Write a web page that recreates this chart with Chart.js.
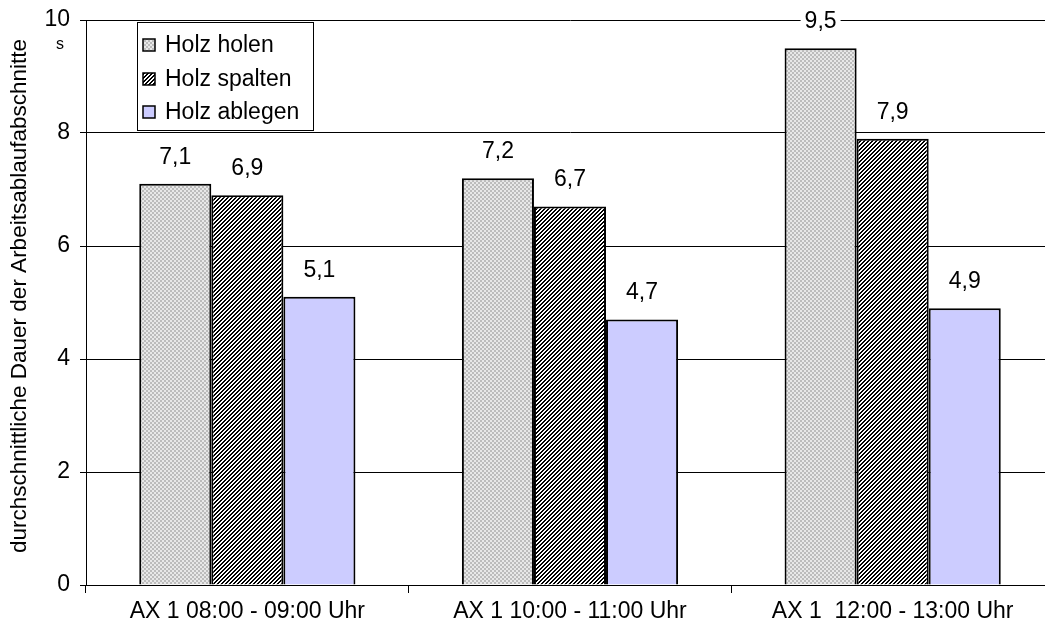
<!DOCTYPE html>
<html>
<head>
<meta charset="utf-8">
<script src="https://cdn.jsdelivr.net/npm/chart.js@4/dist/chart.umd.min.js"></script>
<style>
  html, body { margin: 0; padding: 0; overflow: hidden; background: #fff; }
  #wrap { width: 1054px; height: 628px; position: relative; }
</style>
</head>
<body>
<div id="wrap"><canvas id="myChart"></canvas></div>
<script>
var categories = ['AX 1 08:00 - 09:00 Uhr', 'AX 1 10:00 - 11:00 Uhr', 'AX 1  12:00 - 13:00 Uhr'];
var seriesNames = ['Holz holen', 'Holz spalten', 'Holz ablegen'];
var holzHolen = [7.1, 7.2, 9.5];
var holzSpalten = [6.9, 6.7, 7.9];
var holzAblegen = [5.1, 4.7, 4.9];
var yTitle = 'durchschnittliche Dauer der Arbeitsablaufabschnitte';
var yUnit = 's';

var FONT = "'Liberation Sans', Arial, sans-serif";

// pixel patterns like the old office fills
function checkerPattern() {
  var c = document.createElement('canvas');
  c.width = 4; c.height = 4;
  var g = c.getContext('2d');
  g.fillStyle = '#e8e8e8';
  g.fillRect(0, 0, 4, 4);
  g.fillStyle = '#bcbcbc';
  g.fillRect(0, 0, 2, 2);
  g.fillRect(2, 2, 2, 2);
  return g.createPattern(c, 'repeat');
}

function hatchPattern() {
  var c = document.createElement('canvas');
  c.width = 4; c.height = 4;
  var g = c.getContext('2d');
  var img = g.createImageData(4, 4);
  for (var y = 0; y < 4; y++) {
    for (var x = 0; x < 4; x++) {
      var i = (y * 4 + x) * 4;
      var v = ((x + y) % 4) < 2 ? 0 : 255;
      img.data[i] = v; img.data[i + 1] = v; img.data[i + 2] = v; img.data[i + 3] = 255;
    }
  }
  g.putImageData(img, 0, 0);
  return g.createPattern(c, 'repeat');
}

var fills = [checkerPattern(), hatchPattern(), '#ccccff'];

function fmt(v) {
  return v.toFixed(1).replace('.', ',');
}

var valueLabels = {
  id: 'valueLabels',
  afterDatasetsDraw: function(chart) {
    var ctx = chart.ctx;
    ctx.save();
    ctx.font = '23px ' + FONT;
    ctx.textAlign = 'center';
    ctx.textBaseline = 'alphabetic';
    chart.data.datasets.forEach(function(ds, di) {
      chart.getDatasetMeta(di).data.forEach(function(bar, i) {
        var txt = fmt(ds.data[i]);
        var w = ctx.measureText(txt).width;
        var by = bar.y - 20;
        ctx.fillStyle = '#fff';
        ctx.fillRect(bar.x - w / 2 - 4, by - 19, w + 8, 23);
        ctx.fillStyle = '#000';
        ctx.fillText(txt, bar.x, by);
      });
    });
    ctx.restore();
  }
};

var boxLegend = {
  id: 'boxLegend',
  afterDraw: function(chart) {
    var ctx = chart.ctx;
    ctx.save();
    ctx.fillStyle = '#fff';
    ctx.fillRect(137.5, 22.5, 176, 108);
    ctx.strokeStyle = '#000';
    ctx.lineWidth = 1;
    ctx.strokeRect(137.5, 22.5, 176, 108);
    ctx.font = '23px ' + FONT;
    ctx.textAlign = 'left';
    ctx.textBaseline = 'middle';
    var rows = [45, 79, 112];
    for (var i = 0; i < seriesNames.length; i++) {
      ctx.fillStyle = fills[i];
      ctx.fillRect(143, rows[i] - 6, 12, 12);
      ctx.strokeStyle = '#000';
      ctx.lineWidth = 1.5;
      ctx.strokeRect(143, rows[i] - 6, 12, 12);
      ctx.fillStyle = '#000';
      ctx.fillText(seriesNames[i], 165, rows[i] + 1);
    }
    // unit under the top tick
    ctx.font = '16px ' + FONT;
    ctx.textAlign = 'center';
    ctx.textBaseline = 'alphabetic';
    ctx.fillText(yUnit, 60, 49);

    // axis title, rotated
    ctx.translate(20, 296);
    ctx.rotate(-Math.PI / 2);
    ctx.font = '22.5px ' + FONT;
    ctx.textBaseline = 'middle';
    ctx.fillText(yTitle, 0, 0);
    ctx.restore();
  }
};

var ctx = document.getElementById('myChart').getContext('2d');
var chart = new Chart(ctx, {
  type: 'bar',
  data: {
    labels: categories,
    datasets: [
      { label: seriesNames[0], data: holzHolen, backgroundColor: fills[0], borderColor: '#000', borderWidth: 2 },
      { label: seriesNames[1], data: holzSpalten, backgroundColor: fills[1], borderColor: '#000', borderWidth: 2 },
      { label: seriesNames[2], data: holzAblegen, backgroundColor: fills[2], borderColor: '#000', borderWidth: 2 }
    ]
  },
  options: {
    responsive: true,
    maintainAspectRatio: false,
    animation: false,
    datasets: { bar: { categoryPercentage: 0.67, barPercentage: 1 } },
    layout: { padding: { top: 20, right: 0, left: 0, bottom: 0 } },
    plugins: {
      legend: { display: false },
      tooltip: { enabled: false }
    },
    scales: {
      x: {
        offset: true,
        grid: { drawOnChartArea: false, drawTicks: true, tickLength: 8, color: '#000', offset: true },
        border: { color: '#000', width: 1 },
        ticks: { color: '#000', font: { family: FONT, size: 23 }, padding: 5, maxRotation: 0 },
        afterFit: function(scale) { scale.height = 43; }
      },
      y: {
        min: 0,
        max: 10,
        ticks: { stepSize: 2, color: '#000', font: { family: FONT, size: 23 }, padding: 10 },
        grid: { color: '#000', lineWidth: 1, tickLength: 6 },
        border: { color: '#000', width: 1 },
        afterFit: function(scale) {
          scale.width = 86;
          scale.paddingTop = 0;
          scale.paddingBottom = 0;
        }
      }
    }
  },
  plugins: [valueLabels, boxLegend]
});
</script>
</body>
</html>
